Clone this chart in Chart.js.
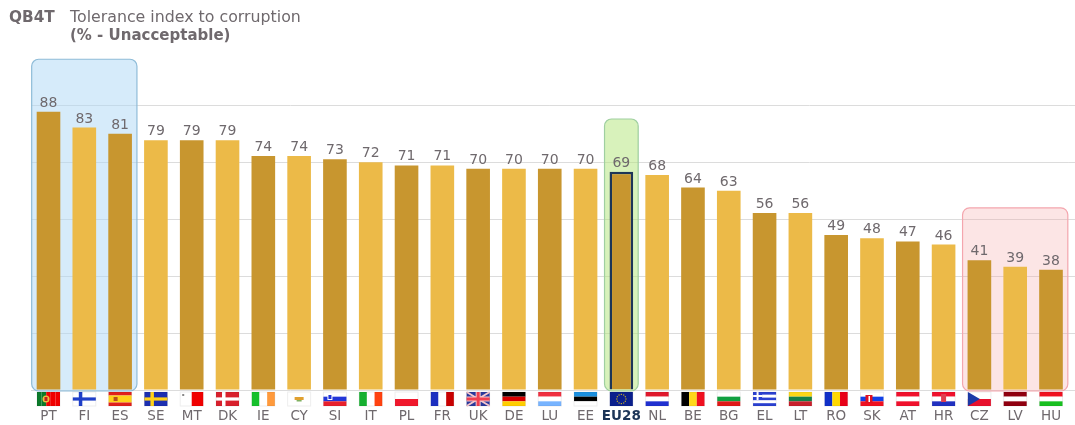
<!DOCTYPE html>
<html>
<head>
<meta charset="utf-8">
<script src="https://cdn.jsdelivr.net/npm/chart.js@4"></script>
<style>
  html, body { margin: 0; padding: 0; background: #fff; overflow: hidden; }
  #wrap { position: relative; width: 1075px; height: 425px; overflow: hidden; filter: blur(.4px); }
  canvas { position: absolute; left: 0; top: 0; }
  .t { position: absolute; font-family: "DejaVu Sans", sans-serif; color: #6f696d; white-space: nowrap; line-height: 18px; }
</style>
</head>
<body>
<div id="wrap">
  <canvas id="chart" width="1075" height="425"></canvas>
  <div class="t" style="left:9px;top:8px;font-size:15.3px;font-weight:bold;">QB4T</div>
  <div class="t" style="left:70px;top:8px;font-size:15.8px;">Tolerance index to corruption</div>
  <div class="t" style="left:70px;top:26px;font-size:15px;font-weight:bold;">(% - Unacceptable)</div>
</div>
<script>
const countries = ['PT','FI','ES','SE','MT','DK','IE','CY','SI','IT','PL','FR','UK','DE','LU','EE','EU28','NL','BE','BG','EL','LT','RO','SK','AT','HR','CZ','LV','HU'];
const unacceptable = [88,83,81,79,79,79,74,74,73,72,71,71,70,70,70,70,69,68,64,63,56,56,49,48,47,46,41,39,38];
const yTicks = [0,18,36,54,72,90];
const highlightCountries = [['PT','ES'],['EU28','EU28'],['CZ','HU']];
const highlightTops = [104.6,85.7,57.6];

// stripes: h = rows, v = columns, colours listed in order
const flags = {
  PT: ['v','#0b7a2a','#0b7a2a','#f00000','#f00000','#f00000'], FI: ['h','#fff'], ES: ['h','#e0201c','#ffd21a','#ffd21a','#e0201c'],
  SE: ['h','#1c2fb0'], MT: ['v','#fff','#f00000'], DK: ['h','#d8202c'],
  IE: ['v','#16c02c','#fff','#ff9a3c'], CY: ['h','#fff'], SI: ['h','#fff','#2236d8','#e8202c'],
  IT: ['v','#16b030','#fff','#ff4210'], PL: ['h','#fff','#f0182c'], FR: ['v','#1c2fc0','#fff','#c80000'],
  UK: ['h','#2a3a9c'], DE: ['h','#000','#d80000','#ffce00'], LU: ['h','#f03040','#fff','#78b4ff'],
  EE: ['h','#1a90e0','#000','#fff'], EU28: ['h','#0a1f8c'], NL: ['h','#e0182c','#fff','#2030d0'],
  BE: ['v','#000','#ffd81a','#f01020'], BG: ['h','#fff','#10a040','#e01818'], EL: ['h','#2a40d0','#fff','#2a40d0','#fff','#2a40d0'],
  LT: ['h','#fbd616','#148048','#c8202c'], RO: ['v','#1030c8','#ffd800','#e80018'], SK: ['h','#fff','#1040e8','#f01020'],
  AT: ['h','#f0102c','#fff','#f0102c'], HR: ['h','#f0102c','#fff','#2030c0'], CZ: ['h','#fff','#e8102c'],
  LV: ['h','#900010','#fff','#900010'], HU: ['h','#f01020','#fff','#18c020']
};

const darkBar = '#c8962f', lightBar = '#ecba48', navy = '#1d3557', textGrey = '#6f696d', gridGrey = '#dcdcdc';

function drawFlag(ctx, code, cx, top) {
  const w = 23, h = 14, x = cx - w / 2, spec = flags[code];
  const n = spec.length - 1;
  spec.slice(1).forEach((c, i) => {
    ctx.fillStyle = c;
    if (spec[0] === 'h') ctx.fillRect(x, top + h * i / n, w, h / n);
    else ctx.fillRect(x + w * i / n, top, w / n, h);
  });
  // crosses etc. for the ones that are not plain stripes
  if (code === 'FI' || code === 'SE' || code === 'DK') {
    ctx.fillStyle = code === 'FI' ? '#1f3fc8' : code === 'SE' ? '#ffd21a' : '#fff';
    ctx.fillRect(x + 6, top, 3.5, h);
    ctx.fillRect(x, top + 5.4, w, 3.2);
  }
  if (code === 'UK') {
    ctx.strokeStyle = '#f7c8cc'; ctx.lineWidth = 2;
    ctx.beginPath(); ctx.moveTo(x, top); ctx.lineTo(x + w, top + h); ctx.moveTo(x + w, top); ctx.lineTo(x, top + h); ctx.stroke();
    ctx.fillStyle = '#f7c8cc'; ctx.fillRect(x + 9, top, 5, h); ctx.fillRect(x, top + 4.5, w, 5);
    ctx.fillStyle = '#f04050'; ctx.fillRect(x + 10, top, 3, h); ctx.fillRect(x, top + 5.5, w, 3);
  }
  if (code === 'EL') { ctx.fillStyle = '#2a40d0'; ctx.fillRect(x, top, 9, 8); ctx.fillStyle = '#fff'; ctx.fillRect(x + 3.5, top, 2, 8); ctx.fillRect(x, top + 3, 9, 2); }
  if (code === 'CZ') { ctx.fillStyle = '#1c3aa8'; ctx.beginPath(); ctx.moveTo(x, top); ctx.lineTo(x + 12, top + h / 2); ctx.lineTo(x, top + h); ctx.fill(); }
  if (code === 'PT') { ctx.fillStyle = '#e8c040'; ctx.beginPath(); ctx.arc(x + 9, top + 7, 3.5, 0, Math.PI * 2); ctx.fill(); ctx.fillStyle = '#c02020'; ctx.fillRect(x + 7.5, top + 5, 3, 4); }
  if (code === 'ES') { ctx.fillStyle = '#b8501c'; ctx.fillRect(x + 5, top + 5, 4, 4); }
  if (code === 'MT') { ctx.fillStyle = '#888'; ctx.fillRect(x + 2, top + 2, 2, 2); }
  if (code === 'CY') { ctx.fillStyle = '#e0a030'; ctx.fillRect(x + 7, top + 5, 9, 3); ctx.fillStyle = '#80b060'; ctx.fillRect(x + 9, top + 8, 5, 1.5); }
  if (code === 'SI') { ctx.fillStyle = '#fff'; ctx.fillRect(x + 4, top + 2, 5, 6); ctx.fillStyle = '#2236d8'; ctx.fillRect(x + 5, top + 3, 3, 4); }
  if (code === 'SK') { ctx.fillStyle = '#e01020'; ctx.fillRect(x + 5, top + 3, 7, 8); ctx.fillStyle = '#fff'; ctx.fillRect(x + 8, top + 4, 1.5, 6); }
  if (code === 'HR') { ctx.fillStyle = '#e04050'; ctx.fillRect(x + 9, top + 2, 5, 8); }
  if (code === 'EU28') {
    ctx.fillStyle = '#c8b020';
    for (let a = 0; a < 12; a++) {
      ctx.fillRect(cx + Math.cos(a * Math.PI / 6) * 4.6 - 0.6, top + 7 + Math.sin(a * Math.PI / 6) * 4.6 - 0.6, 1.2, 1.2);
    }
  }
  // faint edge so the white flags still show
  ctx.strokeStyle = 'rgba(0,0,0,.07)';
  ctx.lineWidth = 1;
  ctx.strokeRect(x, top, w, h);
}

const overlays = {
  id: 'overlays',
  // highlight boxes sit behind the bars
  beforeDatasetsDraw(chart) {
    const { ctx, scales: { x, y }, chartArea, width } = chart;
    const styles = [['rgba(174,216,246,.5)','#8fbcd8'],['rgba(178,230,120,.5)','#9fcfa0'],['rgba(244,170,170,.3)','#f4a6ae']];

    // gridlines run on to the edge of the picture
    ctx.save();
    ctx.strokeStyle = gridGrey;
    yTicks.forEach(v => {
      const py = Math.round(y.getPixelForValue(v)) + 0.5;
      ctx.beginPath(); ctx.moveTo(chartArea.right, py); ctx.lineTo(width, py); ctx.stroke();
    });
    ctx.restore();

    highlightCountries.forEach((pair, i) => {
      const step = x.getPixelForValue(1) - x.getPixelForValue(0);
      const left = x.getPixelForValue(countries.indexOf(pair[0])) - step * 0.47;
      const right = x.getPixelForValue(countries.indexOf(pair[1])) + step * 0.47;
      const top = y.getPixelForValue(highlightTops[i]);
      ctx.save();
      ctx.beginPath();
      ctx.roundRect(left, top, right - left, y.getPixelForValue(0) + 1 - top, 7);
      ctx.fillStyle = styles[i][0]; ctx.fill();
      ctx.strokeStyle = styles[i][1]; ctx.lineWidth = 1.2; ctx.stroke();
      ctx.restore();
    });
  },
  afterDatasetsDraw(chart) {
    const { ctx, scales: { x, y } } = chart;
    const bars = chart.getDatasetMeta(0).data;
    ctx.save();
    ctx.font = '14px "DejaVu Sans", sans-serif';
    ctx.fillStyle = textGrey;
    ctx.textAlign = 'center';
    ctx.textBaseline = 'alphabetic';
    bars.forEach((bar, i) => ctx.fillText(unacceptable[i], bar.x, bar.y - 5));
    countries.forEach((c, i) => drawFlag(ctx, c, x.getPixelForValue(i), y.getPixelForValue(0) + 2));
    ctx.restore();
  }
};

new Chart(document.getElementById('chart'), {
  type: 'bar',
  data: {
    labels: countries,
    datasets: [{
      data: unacceptable,
      backgroundColor: countries.map((c, i) => i % 2 === 0 ? darkBar : lightBar),
      borderColor: countries.map(c => c === 'EU28' ? navy : 'rgba(0,0,0,0)'),
      borderWidth: countries.map(c => c === 'EU28' ? 2.5 : 0),
      barPercentage: 0.66,
      categoryPercentage: 1
    }]
  },
  options: {
    responsive: false,
    animation: false,
    layout: { padding: { top: 105.4, left: 30.6, right: 6.1, bottom: 0 } },
    plugins: { legend: { display: false }, tooltip: { enabled: false } },
    scales: {
      x: {
        afterFit: s => { s.height = 35; },
        grid: { display: false },
        border: { display: false },
        ticks: {
          autoSkip: false, maxRotation: 0, padding: 10,
          color: c => countries[c.index] === 'EU28' ? navy : textGrey,
          font: c => ({ family: '"DejaVu Sans", sans-serif', size: 13.5, weight: countries[c.index] === 'EU28' ? 'bold' : 'normal' })
        }
      },
      y: {
        min: 0, max: 90,
        afterBuildTicks: s => { s.ticks = yTicks.map(v => ({ value: v })); },
        afterFit: s => { s.width = 0; },
        grid: { color: gridGrey, lineWidth: 1, drawTicks: false },
        border: { display: false },
        ticks: { display: false }
      }
    }
  },
  plugins: [overlays]
});
</script>
</body>
</html>
